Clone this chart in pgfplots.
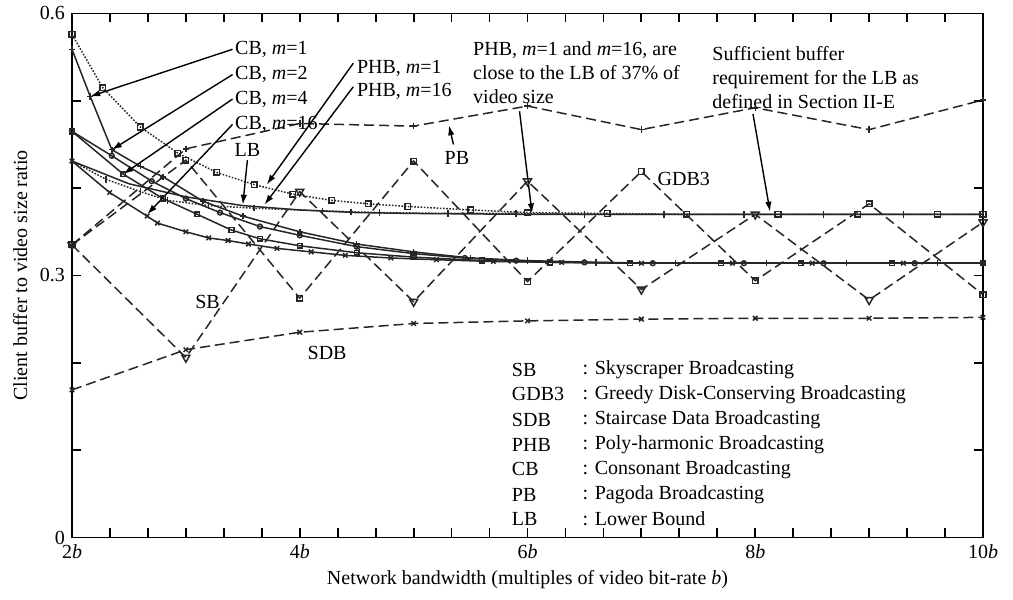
\documentclass[border=0pt]{standalone}
\usepackage{fontspec}
\setmainfont{Liberation Serif}
\usepackage{pgfplots}
\pgfplotsset{compat=1.18}
\usetikzlibrary{arrows.meta}

\begin{document}
\begin{tikzpicture}[font=\fontsize{10}{12}\selectfont,
  lbl/.style={inner sep=0pt, anchor=west},
  arr/.style={-{Latex[length=5pt,width=3.2pt]}, line width=0.7pt, black}]
\begin{axis}[
  name=ax,
  scale only axis,
  width=455.5pt, height=262pt,
  xmin=2, xmax=10, ymin=0, ymax=0.6,
  xtick={2,4,6,8,10},
  xticklabels={2\textit{b},4\textit{b},6\textit{b},8\textit{b},10\textit{b}},
  ytick={0,0.3,0.6},
  yticklabels={0,0.3,0.6},
  extra x ticks={2.3333,2.6667,3,3.3333,3.6667,4.3333,4.6667,5,5.3333,5.6667,6.3333,6.6667,7,7.3333,7.6667,8.3333,8.6667,9,9.3333,9.6667},
  extra x tick labels={},
  extra y ticks={0.1,0.2,0.4,0.5},
  extra y tick labels={},
  tick align=inside,
  xtick pos=both, ytick pos=both,
  major tick length=4.5pt,
  every tick/.style={black, line width=0.9pt},
  every extra x tick/.style={major tick length=4.5pt},
  every extra y tick/.style={major tick length=4.5pt},
  axis line style={line width=0.9pt},
  xlabel={Network bandwidth (multiples of video bit-rate \textit{b})},
  ylabel={Client buffer to video size ratio},
  xlabel style={at={(axis description cs:0.5,-0.080)}, anchor=center},
  ylabel style={at={(axis description cs:-0.057,0.5)}, anchor=center},
  clip=false,
  every axis plot/.append style={line width=0.75pt, black!85},
  mark size=1.6pt,
]

% --- dashed schemes ---
% SB
\addplot[dash pattern=on 5pt off 2.5pt, mark=triangle, mark size=2.3pt, mark options={solid, rotate=180}]
  coordinates {(2,0.335) (3,0.206) (4,0.396) (5,0.270) (6,0.408) (7,0.284) (8,0.370) (9,0.272) (10,0.361)};
% GDB3
\addplot[dash pattern=on 5pt off 2.5pt, mark=square, mark size=1.4pt, mark options={solid}]
  coordinates {(2,0.335) (3,0.432) (4,0.274) (5,0.431) (6,0.293) (7,0.419) (8,0.294) (9,0.382) (10,0.278)};
% PB
\addplot[dash pattern=on 5pt off 2.5pt, mark=+, mark options={solid}]
  coordinates {(2,0.335) (3,0.445) (4,0.474) (5,0.471) (6,0.494) (7,0.467) (8,0.492) (9,0.467) (10,0.501)};
% SDB
\addplot[dash pattern=on 5pt off 2.5pt, mark=x, mark options={solid}]
  coordinates {(2,0.169) (3,0.215) (4,0.235) (5,0.245) (6,0.248) (7,0.250) (8,0.251) (9,0.251) (10,0.252)};

% --- PHB (dotted) ---
% PHB, m=1
\addplot[dash pattern=on 0.8pt off 0.8pt, mark=square, mark size=1.4pt, mark options={solid}]
  coordinates {(2,0.576) (2.27,0.515) (2.6,0.470) (2.93,0.440) (3.27,0.418) (3.6,0.404) (3.94,0.393)
   (4.28,0.386) (4.6,0.382) (4.95,0.379) (5.5,0.375) (6,0.372) (6.7,0.371) (7.4,0.370) (8.2,0.370)
   (8.9,0.370) (9.6,0.370) (10,0.370)};
% PHB, m=16
\addplot[dash pattern=on 0.8pt off 0.8pt, mark=|, mark options={solid}]
  coordinates {(2,0.431) (2.3,0.410) (2.6,0.396) (2.84,0.386) (3.2,0.380) (3.6,0.377) (4.2,0.374)
   (4.45,0.373) (4.7,0.372) (5.3,0.371) (5.9,0.371) (6.5,0.370) (7.2,0.370) (7.9,0.370) (8.6,0.370)
   (9.3,0.370) (10,0.370)};
% LB
\addplot[mark=none]
  coordinates {(2,0.431) (2.5,0.405) (3,0.390) (3.5,0.380) (4,0.375) (4.5,0.372) (5,0.371) (6,0.370)
   (7,0.370) (8,0.370) (9,0.370) (10,0.370)};

% --- CB (solid) ---
% CB, m=1
\addplot[mark=+]
  coordinates {(2,0.559) (2.16,0.505) (2.35,0.444) (2.6,0.425) (2.8,0.413) (3.15,0.385) (3.5,0.368)
   (4,0.350) (4.5,0.336) (5,0.327) (5.5,0.320) (6,0.317) (6.6,0.315) (7.3,0.314) (8.1,0.314)
   (8.8,0.314) (9.6,0.314) (10,0.314)};
% CB, m=2
\addplot[mark=o, mark size=1.2pt]
  coordinates {(2,0.465) (2.35,0.437) (2.7,0.408) (3,0.388) (3.3,0.372) (3.65,0.356) (4,0.346)
   (4.5,0.333) (5,0.325) (5.45,0.320) (5.9,0.317) (6.5,0.315) (7.1,0.314) (7.9,0.314) (8.6,0.314)
   (9.4,0.314) (10,0.314)};
% CB, m=4
\addplot[mark=square, mark size=1.2pt]
  coordinates {(2,0.465) (2.45,0.416) (2.8,0.388) (3.1,0.370) (3.4,0.352) (3.65,0.342) (4,0.334)
   (4.5,0.326) (5,0.321) (5.6,0.317) (6.2,0.315) (6.9,0.314) (7.7,0.314) (8.4,0.314) (9.2,0.314)
   (10,0.314)};
% CB, m=16
\addplot[mark=x]
  coordinates {(2,0.431) (2.33,0.395) (2.66,0.368) (2.75,0.360) (3,0.350) (3.2,0.343) (3.37,0.340)
   (3.55,0.336) (3.8,0.331) (4.1,0.327) (4.4,0.323) (4.8,0.320) (5.2,0.318) (5.7,0.316) (6.3,0.315)
   (7,0.314) (7.8,0.314) (8.5,0.314) (9.3,0.314) (10,0.314)};

% --- annotations ---
\node[lbl] at (axis cs:3.43,0.559) {CB, \textit{m}=1};
\node[lbl] at (axis cs:3.43,0.530) {CB, \textit{m}=2};
\node[lbl] at (axis cs:3.43,0.502) {CB, \textit{m}=4};
\node[lbl] at (axis cs:3.43,0.473) {CB, \textit{m}=16};
\draw[arr] (axis cs:3.41,0.559) -- (axis cs:2.16,0.505);
\draw[arr] (axis cs:3.41,0.530) -- (axis cs:2.35,0.444);
\draw[arr] (axis cs:3.41,0.502) -- (axis cs:2.45,0.416);
\draw[arr] (axis cs:3.41,0.473) -- (axis cs:2.66,0.370);

\node[inner sep=0pt] at (axis cs:3.54,0.444) {LB};
\draw[arr] (axis cs:3.54,0.432) -- (axis cs:3.50,0.381);

\node[lbl] at (axis cs:4.50,0.537) {PHB, \textit{m}=1};
\node[lbl] at (axis cs:4.50,0.511) {PHB, \textit{m}=16};
\draw[arr] (axis cs:4.47,0.543) -- (axis cs:3.71,0.404);
\draw[arr] (axis cs:4.47,0.516) -- (axis cs:3.69,0.381);

\node[inner sep=0pt, anchor=north west, align=left] at (axis cs:5.52,0.568)
  {PHB, \textit{m}=1 and \textit{m}=16, are\\close to the LB of 37\% of\\video size};
\draw[arr] (axis cs:5.93,0.488) -- (axis cs:6.04,0.371);

\node[inner sep=0pt, anchor=north west, align=left] at (axis cs:7.62,0.563)
  {Sufficient buffer\\requirement for the LB as\\defined in Section II-E};
\draw[arr] (axis cs:7.98,0.485) -- (axis cs:8.13,0.373);

\node[inner sep=0pt] at (axis cs:5.38,0.434) {PB};
\draw[arr] (axis cs:5.35,0.450) -- (axis cs:5.31,0.472);

\node[lbl] at (axis cs:7.14,0.410) {GDB3};
\node[inner sep=0pt] at (axis cs:3.19,0.270) {SB};
\node[inner sep=0pt] at (axis cs:4.24,0.211) {SDB};

% key to the abbreviations
\node[lbl] at (axis cs:5.86,0.192) {SB};
\node[lbl] at (axis cs:5.86,0.164) {GDB3};
\node[lbl] at (axis cs:5.86,0.135) {SDB};
\node[lbl] at (axis cs:5.86,0.106) {PHB};
\node[lbl] at (axis cs:5.86,0.078) {CB};
\node[lbl] at (axis cs:5.86,0.049) {PB};
\node[lbl] at (axis cs:5.86,0.021) {LB};
\node[lbl] at (axis cs:6.48,0.192) {: Skyscraper Broadcasting};
\node[lbl] at (axis cs:6.48,0.164) {: Greedy Disk-Conserving Broadcasting};
\node[lbl] at (axis cs:6.48,0.135) {: Staircase Data Broadcasting};
\node[lbl] at (axis cs:6.48,0.106) {: Poly-harmonic Broadcasting};
\node[lbl] at (axis cs:6.48,0.078) {: Consonant Broadcasting};
\node[lbl] at (axis cs:6.48,0.049) {: Pagoda Broadcasting};
\node[lbl] at (axis cs:6.48,0.021) {: Lower Bound};
\end{axis}
\path (ax.south west) ++(-36pt,-31pt) rectangle ([shift={(15pt,6pt)}]ax.north east);
\end{tikzpicture}
\end{document}
